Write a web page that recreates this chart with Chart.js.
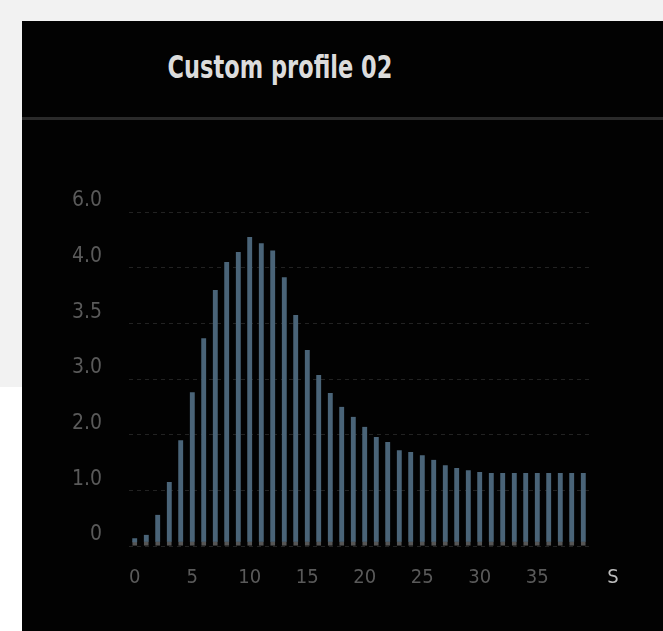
<!DOCTYPE html>
<html>
<head>
<meta charset="utf-8">
<script src="https://cdn.jsdelivr.net/npm/chart.js@4.4.1/dist/chart.umd.min.js"></script>
<style>
  html, body { margin: 0; padding: 0; }
  body { width: 663px; height: 631px; position: relative; overflow: hidden; background: #f2f2f2; }
  .white { position: absolute; left: 0; top: 387px; width: 24px; height: 244px; background: #fff; }
  .panel { position: absolute; left: 22px; top: 21px; width: 641px; height: 610px; background: #020202; }
  .title { position: absolute; left: 0; width: 516px; top: 31px; text-align: center;
           font: bold 25px 'DejaVu Sans Condensed', sans-serif; color: #dcdcdc; transform: scaleY(1.3); }
  .rule { position: absolute; left: 0; right: 0; top: 96px; height: 3px; background: #2a2a2a; }
  #chart { position: absolute; left: 2px; top: 104px; }
</style>
</head>
<body>
<div class="white"></div>
<div class="panel">
  <div class="title">Custom profile 02</div>
  <div class="rule"></div>
  <canvas id="chart" width="639" height="506"></canvas>
</div>
<script>
// time axis (seconds), one bar per second
const seconds = [0, 1, 2, 3, 4, 5, 6, 7, 8, 9, 10, 11, 12, 13, 14, 15, 16, 17, 18, 19,
                 20, 21, 22, 23, 24, 25, 26, 27, 28, 29, 30, 31, 32, 33, 34, 35, 36, 37, 38, 39];
// bar heights in gridline steps
const values = [0.14, 0.2, 0.56, 1.15, 1.90, 2.76, 3.73, 4.60, 5.10, 5.28,
                5.55, 5.44, 5.31, 4.83, 4.15, 3.52, 3.07, 2.75, 2.50, 2.32,
                2.14, 1.96, 1.87, 1.72, 1.69, 1.63, 1.55, 1.45, 1.40, 1.36,
                1.33, 1.31, 1.31, 1.31, 1.31, 1.31, 1.31, 1.31, 1.31, 1.31];
// y tick labels as printed on the chart, bottom to top
const yLabels = ["0", "1.0", "2.0", "3.0", "3.5", "4.0", "6.0"];
const xUnit = "S";

const labelFont = "'DejaVu Sans Condensed', 'DejaVu Sans', sans-serif";

// draws the unit letter to the right of the x tick labels
const unitLabel = {
  id: "unitLabel",
  afterDraw(chart) {
    const { ctx, scales } = chart;
    ctx.save();
    ctx.font = "20px " + labelFont;
    ctx.fillStyle = "#bdbdbd";
    ctx.textAlign = "center";
    ctx.textBaseline = "middle";
    ctx.fillText(xUnit, 589, scales.x.top + 32);
    ctx.restore();
  }
};

new Chart(document.getElementById("chart"), {
  type: "bar",
  data: {
    labels: seconds,
    datasets: [{
      data: values,
      backgroundColor: "#4a6478",
      borderColor: "#555",
      borderWidth: { top: 0, left: 0, right: 0, bottom: 4 },
      borderSkipped: false,
      barThickness: 5
    }]
  },
  options: {
    responsive: false,
    animation: false,
    layout: { padding: { left: 45, right: 74, top: 87, bottom: 35 } },
    plugins: {
      legend: { display: false },
      tooltip: { enabled: false }
    },
    scales: {
      x: {
        grid: { display: false, drawTicks: false },
        border: { display: false },
        ticks: {
          autoSkip: false,
          maxRotation: 0,
          padding: 20,
          color: "#5a5a5a",
          font: { family: labelFont, size: 20 },
          callback: (val, i) => (seconds[i] % 5 === 0 ? String(seconds[i]) : "")
        },
        afterFit: (scale) => { scale.height = 50; }
      },
      y: {
        min: 0,
        max: 6,
        grid: { color: "#222", drawTicks: false },
        border: { display: false, dash: [4, 4] },
        ticks: {
          stepSize: 1,
          padding: 27,
          labelOffset: -11,
          color: "#5a5a5a",
          font: { family: labelFont, size: 21 },
          callback: (val) => yLabels[val] ?? ""
        },
        afterFit: (scale) => { scale.width = 60; }
      }
    }
  },
  plugins: [unitLabel]
});
</script>
</body>
</html>
